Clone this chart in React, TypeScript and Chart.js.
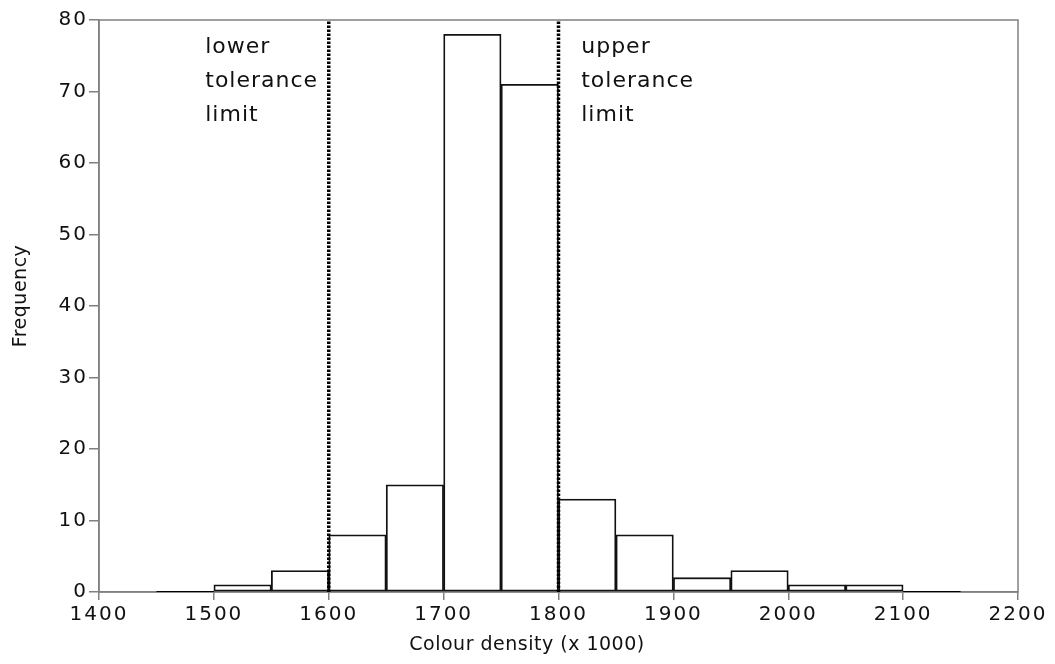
import React, { useEffect, useRef } from "react";
import { Chart, registerables } from "chart.js";

Chart.register(...registerables);

const binStarts = [1450, 1500, 1550, 1600, 1650, 1700, 1750, 1800, 1850, 1900, 1950, 2000, 2050, 2100];
const binWidth = 50;
const frequencies = [0, 1, 3, 8, 15, 78, 71, 13, 8, 2, 3, 1, 1, 0];
const toleranceLimits = [1600, 1800];
const xTicks = [1400, 1500, 1600, 1700, 1800, 1900, 2000, 2100, 2200];
const yTicks = [0, 10, 20, 30, 40, 50, 60, 70, 80];
const lowerLabel = ["lower", "tolerance", "limit"];
const upperLabel = ["upper", "tolerance", "limit"];
const xTitle = "Colour density (x 1000)";
const yTitle = "Frequency";

// annotation anchor positions (data units)
const lowerLabelX = 1492.5;
const upperLabelX = 1819.8;
const labelLineYs = [75.38, 70.63, 65.87];

const FONT = "'DejaVu Sans', 'Liberation Sans', Arial, sans-serif";

export default function App() {
  const ref = useRef<HTMLCanvasElement>(null);
  useEffect(() => {
    if (!ref.current) return;
    const barData = binStarts
      .map((s, i) => ({ x: s + binWidth / 2, y: frequencies[i] }))
      .filter((p) => p.y > 0);
    const zeroData: any[] = [];
    binStarts.forEach((s, i) => {
      if (frequencies[i] === 0) {
        zeroData.push({ x: s, y: 0 }, { x: s + binWidth, y: 0 }, { x: s + binWidth, y: null });
      }
    });
    const limitData: any[] = [];
    toleranceLimits.forEach((v) => {
      limitData.push({ x: v, y: 0 }, { x: v, y: 80 }, { x: v, y: null });
    });

    const textPlugin = {
      id: "texts",
      beforeDraw(chart: any) {
        (chart.ctx as any).letterSpacing = "2px";
      },
      beforeDatasetsDraw(chart: any) {
        const { ctx, chartArea } = chart;
        ctx.save();
        ctx.strokeStyle = "#808080";
        ctx.lineWidth = 1.5;
        ctx.strokeRect(chartArea.left, chartArea.top, chartArea.right - chartArea.left, chartArea.bottom - chartArea.top);
        ctx.restore();
      },
      afterDatasetsDraw(chart: any) {
        const { ctx, scales } = chart;
        ctx.save();
        ctx.fillStyle = "#111";
        ctx.font = `22px ${FONT}`;
        (ctx as any).letterSpacing = "1px";
        ctx.textBaseline = "alphabetic";
        ctx.textAlign = "left";
        const groups = [
          { lines: lowerLabel, x: lowerLabelX },
          { lines: upperLabel, x: upperLabelX },
        ];
        groups.forEach((g) => {
          g.lines.forEach((t, i) => {
            ctx.fillText(t, scales.x.getPixelForValue(g.x), scales.y.getPixelForValue(labelLineYs[i]));
          });
        });
        ctx.restore();

        // axis titles
        ctx.save();
        ctx.fillStyle = "#111";
        ctx.font = `19px ${FONT}`;
        (ctx as any).letterSpacing = "0.5px";
        ctx.textAlign = "center";
        ctx.textBaseline = "alphabetic";
        ctx.fillText(xTitle, 527, 650);
        ctx.translate(26, 296);
        ctx.rotate(-Math.PI / 2);
        ctx.fillText(yTitle, 0, 0);
        ctx.restore();
      },
    };

    const chart = new Chart(ref.current, {
      type: "bar",
      data: {
        datasets: [
          {
            type: "bar",
            data: barData,
            backgroundColor: "#ffffff",
            borderColor: "#111",
            borderWidth: 1.8,
            borderSkipped: false,
            barPercentage: 1,
            categoryPercentage: 1,
            order: 3,
          } as any,
          {
            type: "line",
            data: zeroData,
            borderColor: "#000",
            borderWidth: 2,
            pointRadius: 0,
            spanGaps: false,
            order: 2,
          },
          {
            type: "line",
            data: limitData,
            borderColor: "#000",
            borderWidth: 3.5,
            borderDash: [2.5, 1.5],
            pointRadius: 0,
            spanGaps: false,
            order: 1,
          },
        ],
      },
      options: {
        animation: false,
        responsive: false,
        maintainAspectRatio: false,
        layout: { padding: { top: 20, right: 37, left: 0, bottom: 0 } },
        plugins: { legend: { display: false }, tooltip: { enabled: false } },
        scales: {
          x: {
            type: "linear",
            min: 1400,
            max: 2200,
            offset: false,
            afterBuildTicks: (s: any) => {
              s.ticks = xTicks.map((v) => ({ value: v }));
            },
            ticks: {
              color: "#111",
              font: { family: FONT, size: 20 },
              padding: 3,
              maxRotation: 0,
              autoSkip: false,
              callback: (v: any) => String(v),
            },
            grid: { display: true, offset: false, drawOnChartArea: false, drawTicks: true, tickLength: 8, color: "#808080", lineWidth: 1.5 },
            border: { display: true, color: "#808080", width: 1.5 },
            title: { display: false },
            afterFit: (s: any) => {
              s.height = 72;
            },
          },
          y: {
            type: "linear",
            min: 0,
            max: 80,
            afterBuildTicks: (s: any) => {
              s.ticks = yTicks.map((v) => ({ value: v }));
            },
            ticks: { color: "#111", font: { family: FONT, size: 20 }, padding: 1, autoSkip: false, callback: (v: any) => String(v) },
            grid: { display: true, drawOnChartArea: false, drawTicks: true, tickLength: 10, color: "#808080", lineWidth: 1.5 },
            border: { display: true, color: "#808080", width: 1.5 },
            title: { display: false },
            afterFit: (s: any) => {
              s.width = 99;
            },
          },
        },
      },
      plugins: [textPlugin],
    });
    return () => chart.destroy();
  }, []);
  return (
    <div style={{ position: "absolute", left: 0, top: 0, width: 1055, height: 664, background: "#fff" }}>
      <canvas ref={ref} width={1055} height={664} style={{ display: "block" }} />
    </div>
  );
}
